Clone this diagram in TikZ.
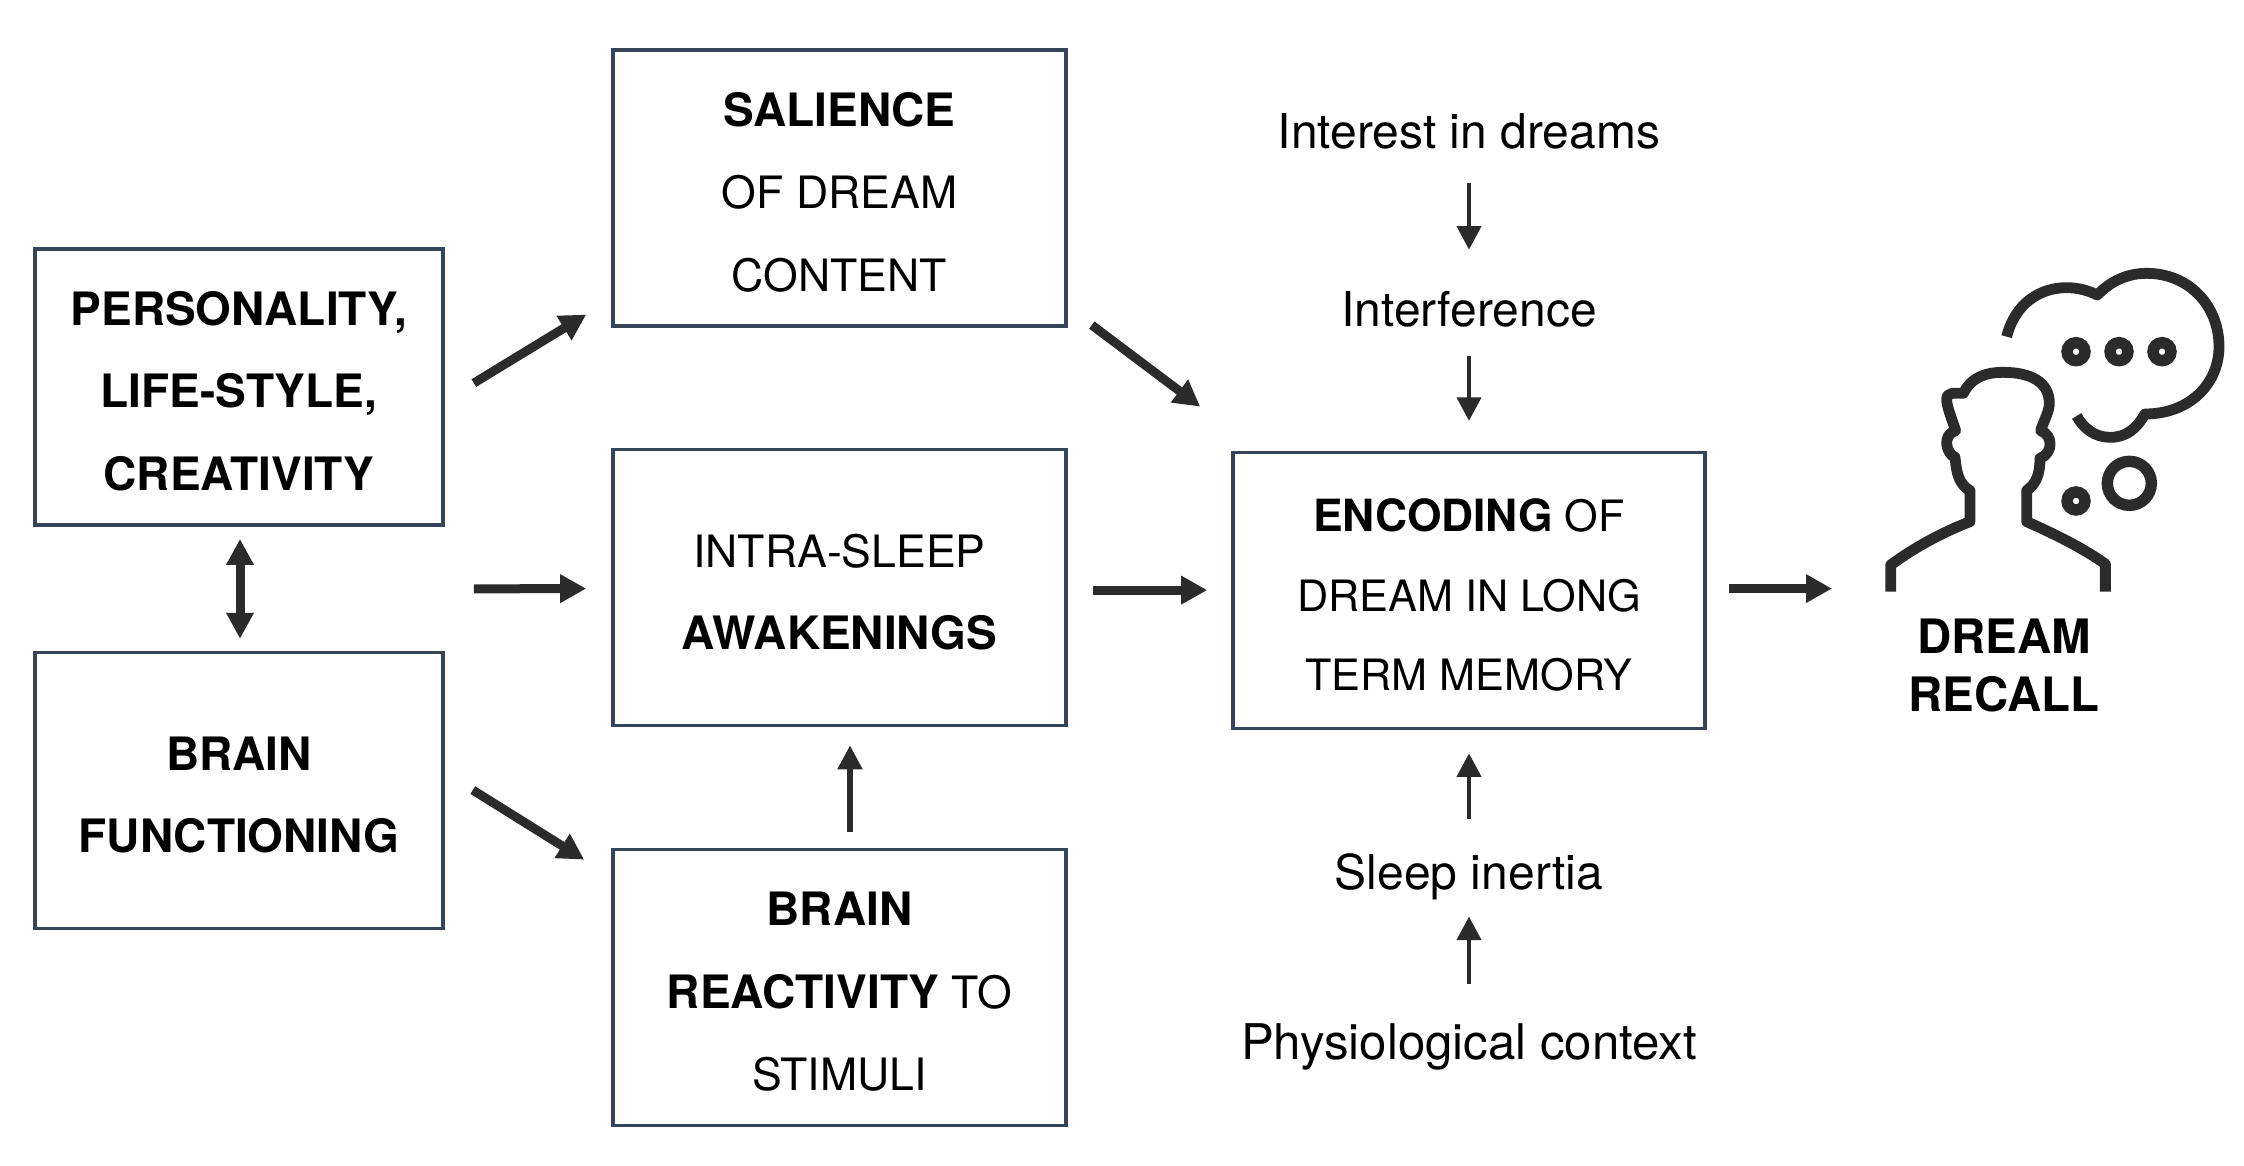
\documentclass[tikz,border=0pt]{standalone}
\usepackage{fontspec}
\setmainfont{TeX Gyre Heros}
\usetikzlibrary{arrows.meta,calc}
\definecolor{boxc}{HTML}{36445A}
\definecolor{ink}{HTML}{2B2B2B}
\newcommand\BB[1]{{\fontsize{23}{41.3}\selectfont\bfseries #1}}
\newcommand\BE[1]{{\fontsize{22.2}{39.7}\selectfont\bfseries #1}}
\newcommand\fl{\rule{0pt}{21pt}}
\tikzset{
 x=0.5pt,y=-0.5pt,
 boxn/.style={draw=boxc,line width=1.8pt,fill=white,minimum height=138pt,align=center,inner sep=0pt,font=\fontsize{22.3}{41.3}\selectfont},
 boxe/.style={boxn,font=\fontsize{21.6}{39.7}\selectfont},
 lab/.style={inner sep=0pt,font=\fontsize{24}{29}\selectfont,align=center},
 big/.style={line width=4.5pt,draw=ink,-{Triangle[length=13pt,width=13.5pt]}},
 both/.style={line width=4.5pt,draw=ink,{Triangle[length=13pt,width=13pt]}-{Triangle[length=13pt,width=13pt]}},
 med/.style={line width=2.6pt,draw=ink,-{Triangle[length=12pt,width=12pt]}},
 slim/.style={line width=2pt,draw=ink,-{Triangle[length=11.7pt,width=12pt]}},
 icon/.style={draw=ink,line width=5.4pt,line join=round},
 icond/.style={draw=ink,line width=5.7pt},
}
\begin{document}
\begin{tikzpicture}
\useasboundingbox (0,0) rectangle (2244,1166);
\begin{scope}[shift={(0,0.6)}]
\node[boxn,minimum width=204pt] (pers) at (239,386.5) {\fl\BB{PERSONALITY,}\\\BB{LIFE-STYLE,}\\\BB{CREATIVITY}};
\node[boxn,minimum width=204pt] (brain) at (239,790) {\fl\BB{BRAIN}\\\BB{FUNCTIONING}};
\node[boxn,minimum width=226.5pt] (sal) at (839.5,187.5) {\fl\BB{SALIENCE}\\OF DREAM\\CONTENT};
\node[boxn,minimum width=226.5pt] (intra) at (839.5,587) {\fl INTRA-SLEEP\\\BB{AWAKENINGS}};
\node[boxn,minimum width=226.5pt] (react) at (839.5,987) {\fl\BB{BRAIN}\\\BB{REACTIVITY} TO\\STIMULI};
\node[boxe,minimum width=236pt] (enc) at (1469,590) {\fl\BE{ENCODING} OF\\DREAM IN LONG\\TERM MEMORY};
\node[lab] (interest) at (1469,131) {Interest in dreams};
\node[lab] (interf) at (1469,309) {Interference};
\node[lab] (inertia) at (1469,876) {Sleep inertia};
\node[lab,font=\fontsize{24.6}{29}\selectfont] (physio) at (1469,1046) {Physiological context};
\node[inner sep=0pt,align=center,font=\fontsize{23.7}{29}\selectfont\bfseries] (recall) at (2004,665) {DREAM\\RECALL};
\coordinate (person) at (1832,588);
% connectors
\draw[both] ($(pers.south)+(1,12)$) -- ($(brain.north)+(1,-12)$);
\draw[big] ($(pers.east)+(29,-4)$) -- ($(sal.west)+(-25,126.5)$);
\draw[big] ($(pers.east)!0.5!(brain.east)+(29,0)$) -- ($(intra.west)+(-25,1)$);
\draw[big] ($(brain.east)+(28,-0.5)$) -- ($(react.west)+(-27,-128)$);
\draw[med] ($(react.north)+(10.5,-16)$) -- ($(intra.south)+(10.5,18)$);
\draw[big] ($(sal.east)+(24,137)$) -- ($(enc.west)+(-31,-184)$);
\draw[big] ($(intra.east)+(25,2.5)$) -- ($(enc.west)+(-24,-0.5)$);
\draw[big] ($(enc.east)+(22,-2)$) -- (person);
\draw[slim] ($(interest.center)+(0,51)$) -- ($(interf.center)+(0,-60)$);
\draw[slim] ($(interf.center)+(0,46)$) -- ($(enc.north)+(0,-30)$);
\draw[slim] ($(inertia.center)+(0,-58)$) -- ($(enc.south)+(0,23)$);
\draw[slim] ($(physio.center)+(0,-63)$) -- ($(inertia.center)+(0,40)$);
\end{scope}
% person with thought bubble
\begin{scope}[shift={(1840,240)},scale=1/3]
\draw[icon] (152,1055) -- (152,975) .. controls (220,925) and (300,880) .. (390,845) -- (390,752)
 .. controls (355,730) and (350,700) .. (345,652)
 .. controls (318,640) and (305,585) .. (347,572)
 .. controls (335,535) and (320,500) .. (320,478)
 .. controls (320,455) and (345,460) .. (370,460)
 .. controls (395,410) and (440,397) .. (490,397)
 .. controls (570,397) and (628,425) .. (628,490)
 .. controls (628,515) and (610,545) .. (602,572)
 .. controls (640,585) and (640,640) .. (600,655)
 .. controls (600,700) and (590,730) .. (560,752)
 -- (560,845) .. controls (650,885) and (730,925) .. (796,972) -- (796,1055);
\draw[icon] (500,290) .. controls (525,190) and (600,143) .. (680,143)
 .. controls (715,143) and (745,152) .. (772,165)
 .. controls (810,125) and (860,100) .. (920,100)
 .. controls (1045,100) and (1137,195) .. (1137,320)
 .. controls (1137,430) and (1050,522) .. (915,522)
 .. controls (890,565) and (860,592) .. (810,592)
 .. controls (765,592) and (730,565) .. (710,528);
\draw[icond] (708,335) circle[radius=27];
\draw[icond] (837,335) circle[radius=27];
\draw[icond] (966,335) circle[radius=27];
\draw[icond] (708,783) circle[radius=27];
\draw[icond] (868,730) circle[radius=66];
\end{scope}
\end{tikzpicture}
\end{document}
